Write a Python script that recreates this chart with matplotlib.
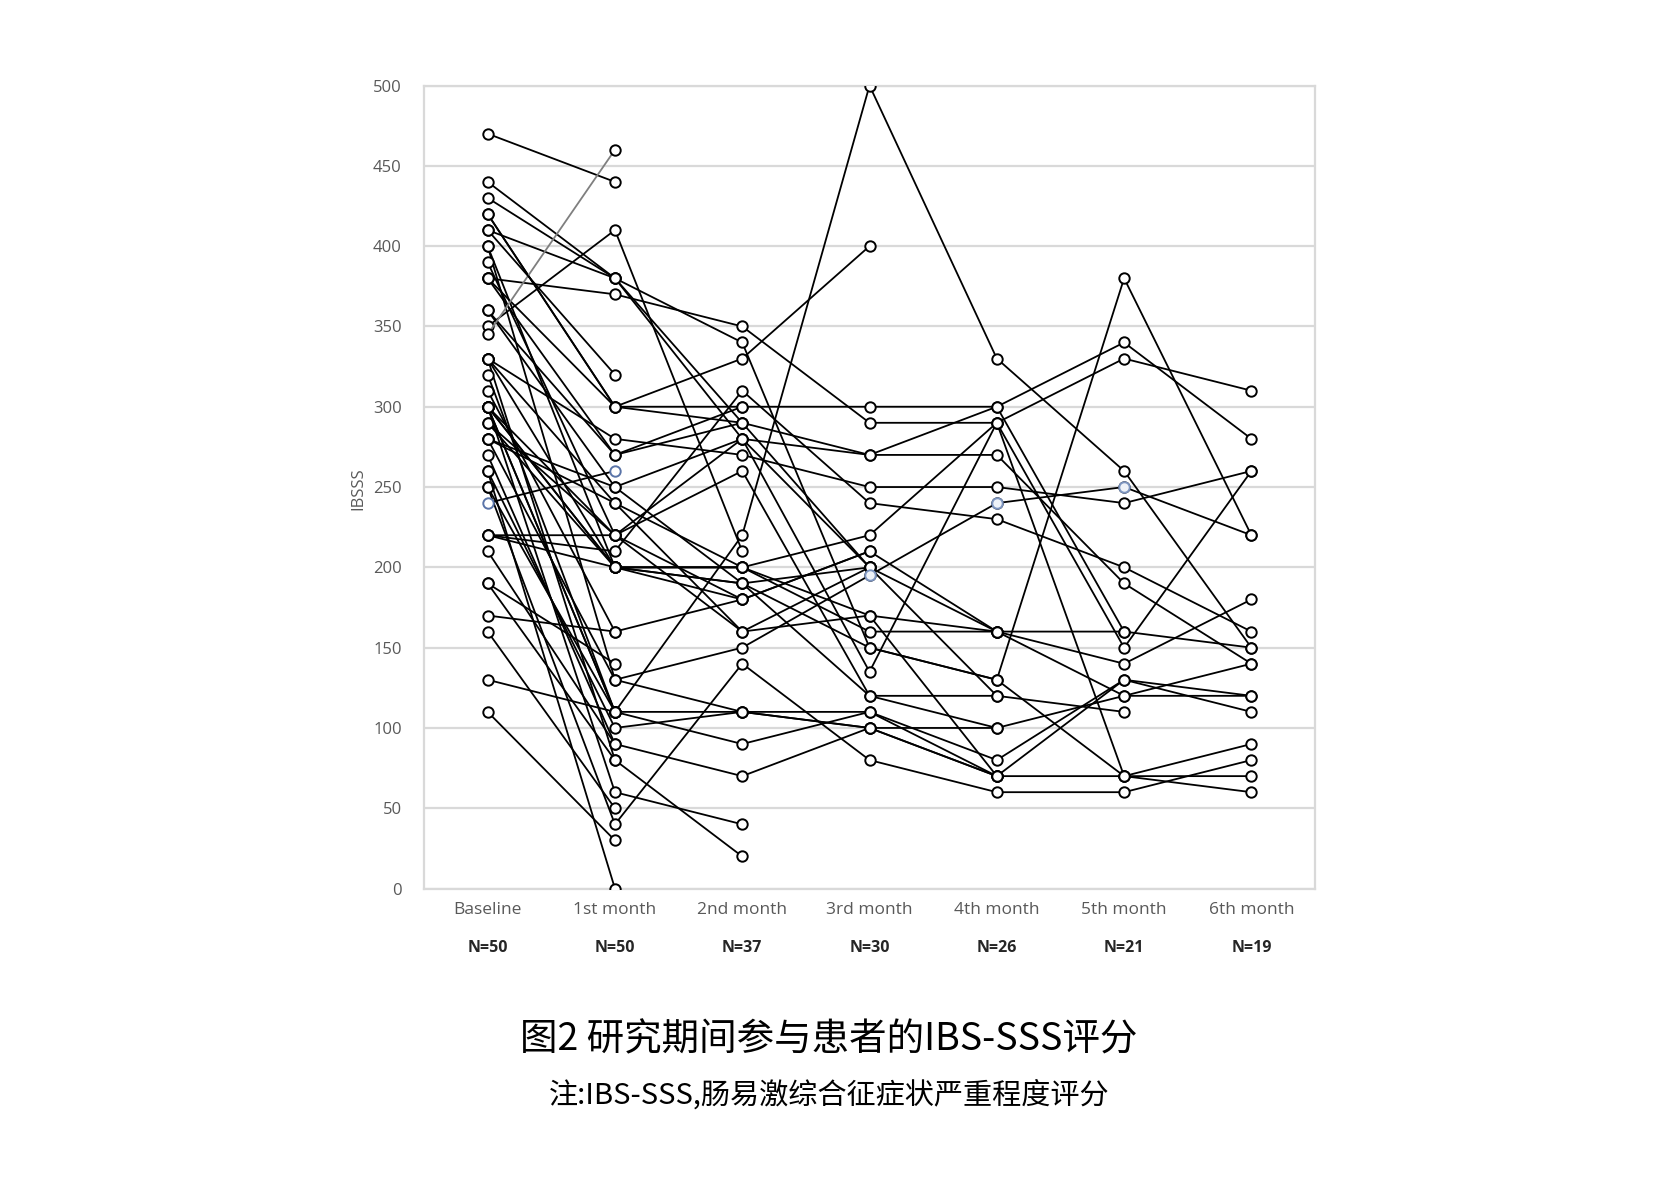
import numpy as np
import matplotlib
matplotlib.use('Agg')
import matplotlib.pyplot as plt

plt.rcParams['font.family'] = ['Open Sans', 'DejaVu Sans']

# categorias del eje x y tamanio de muestra
meses = ['Baseline', '1st month', '2nd month', '3rd month', '4th month', '5th month', '6th month']
n_muestra = ['N=50', 'N=50', 'N=37', 'N=30', 'N=26', 'N=21', 'N=19']

# puntaje IBS-SSS de cada paciente (una posicion por paciente), None = abandono
baseline = [380, 330, 360, 300, 400, 430, 220, 300, 300, 280, 260, 330, 270, 310, 250, 330, 220, 300, 250, 420,
            290, 440, 400, 280, 360, 220, 380, 410, 300, 290, 350, 300, 190, 420, 280, 380, 390, 470, 345, 410,
            260, 110, 330, 320, 240, 210, 190, 170, 130, 160]
mes1 = [370, 280, 270, 110, 130, 380, 210, 220, 200, 250, 100, 240, 90, 160, 110, 200, 200, 110, 40, 300,
        200, 380, 200, 130, 250, 220, 300, 380, 200, 220, 410, 60, 80, 300, 240, 270, 220, 440, 460, 320,
        0, 30, 80, 110, 260, 90, 140, 160, 110, 50]
mes2 = [350, 270, 290, 220, 150, 340, 310, 280, 200, 280, 110, 160, 70, 180, 90, 190, 200, 110, 140, 300,
        190, 280, 200, 110, 190, 260, 330, 290, 180, 160, 210, 40, 20, 290, 200, 300, 180] + [None] * 13
mes3 = [290, 250, 270, 500, 195, 150, 240, 270, 160, 135, 100, 170, 100, 210, 110, 150, 220, 110, 80, 300,
        120, 200, 170, 100, 200, 120, 400, 200, 210, 200] + [None] * 20
mes4 = [290, 250, 300, 330, 240, 130, 230, 270, 160, 290, 100, 160, 70, 160, 70, 130, 290, 80, 60, 300,
        120, 160, 70, 70, 120, 100] + [None] * 24
mes5 = [330, 240, 340, 260, 250, 380, 200, 190, 160, 150, 120, 140, 70, 120, 130, 70, 70, 130, 60, 160,
        110] + [None] * 29
mes6 = [310, 260, 280, 150, 220, 220, 160, 140, 150, 260, 140, 180, 90, 120, 110, 60, 70, 120, 80] + [None] * 31

titulo = '图2 研究期间参与患者的IBS-SSS评分'
nota = '注:IBS-SSS,肠易激综合征症状严重程度评分'

datos = np.array([baseline, mes1, mes2, mes3, mes4, mes5, mes6], dtype=float)

fig = plt.figure(figsize=(16.68, 11.83), dpi=100)
ax = fig.add_axes([0.2542, 0.2489, 0.5342, 0.6788])
x = np.arange(len(meses))

for i in range(datos.shape[1]):
    y = datos[:, i]
    ok = ~np.isnan(y)
    color = 'black'
    borde = 'black'
    if i == 38:
        color = '#7f7f7f'
    if i == 44:
        borde = '#5a74a8'
    ax.plot(x[ok], y[ok], color=color, lw=1.3, marker='o', ms=7.5,
            mfc='white', mec=borde, mew=1.4, zorder=3)

# puntos marcados en azul en el original
ax.plot(x[3:6], datos[3:6, 4], ls='none', marker='o', ms=7.5, mfc='#eef2f8', mec='#7d95c0', mew=1.4, zorder=4)

ax.set_xlim(-0.5, len(meses) - 0.5)
ax.set_ylim(0, 500)
ax.set_yticks(range(0, 501, 50))
ax.set_xticks(x)
ax.set_xticklabels(meses, fontsize=12.5, color='#595959')
ax.tick_params(axis='y', labelsize=12, labelcolor='#595959', pad=16)
ax.tick_params(axis='x', pad=10)
ax.tick_params(length=0)
ax.grid(axis='y', color='#d9d9d9', lw=1.6)
ax.set_axisbelow(True)
for s in ax.spines.values():
    s.set_color('#d9d9d9')
    s.set_linewidth(1.6)

for i, n in enumerate(n_muestra):
    ax.text(x[i], -0.074, n, transform=ax.get_xaxis_transform(), ha='center', va='center',
            fontsize=11.5, fontweight='bold', color='#262626')

fig.text(0.2146, 0.5866, 'IBSSS', rotation=90, ha='center', va='center', fontsize=12, color='#595959')

fig.text(0.497, 0.121, titulo, ha='center', va='center', fontsize=27, fontweight='light',
         family=['Noto Sans CJK SC', 'DejaVu Sans'])
fig.text(0.497, 0.0744, nota, ha='center', va='center', fontsize=21,
         family=['Noto Sans CJK SC', 'DejaVu Sans'])

fig.savefig('out.png', dpi=100)
